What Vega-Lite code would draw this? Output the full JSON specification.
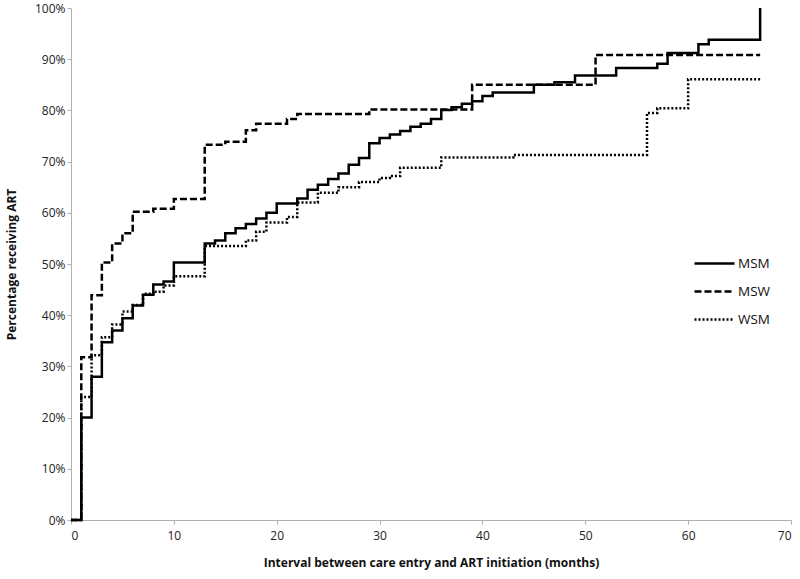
{
  "$schema": "https://vega.github.io/schema/vega-lite/v6.json",
  "width": 720,
  "height": 512,
  "autosize": {"type": "none"},
  "padding": {"left": 71, "top": 8, "right": 9, "bottom": 59},
  "background": "white",
  "config": {
    "view": {"stroke": null},
    "font": "Open Sans",
    "axis": {
      "domainColor": "#b0b0b0",
      "tickColor": "#b0b0b0",
      "labelColor": "#222",
      "titleColor": "#111",
      "labelFont": "Open Sans",
      "titleFont": "Open Sans",
      "labelFontSize": 12,
      "titleFontSize": 12,
      "titleFontWeight": "bold",
      "grid": false
    }
  },
  "data": {
    "values": [
      {"group": "MSM", "month": 0, "pct": 0},
      {"group": "MSM", "month": 1, "pct": 20},
      {"group": "MSM", "month": 2, "pct": 28},
      {"group": "MSM", "month": 3, "pct": 34.7},
      {"group": "MSM", "month": 4, "pct": 37},
      {"group": "MSM", "month": 5, "pct": 39.4},
      {"group": "MSM", "month": 6, "pct": 41.9},
      {"group": "MSM", "month": 7, "pct": 44},
      {"group": "MSM", "month": 8, "pct": 46},
      {"group": "MSM", "month": 9, "pct": 46.6},
      {"group": "MSM", "month": 10, "pct": 50.3},
      {"group": "MSM", "month": 13, "pct": 54},
      {"group": "MSM", "month": 14, "pct": 54.6},
      {"group": "MSM", "month": 15, "pct": 56},
      {"group": "MSM", "month": 16, "pct": 57},
      {"group": "MSM", "month": 17, "pct": 57.8},
      {"group": "MSM", "month": 18, "pct": 58.9},
      {"group": "MSM", "month": 19, "pct": 60},
      {"group": "MSM", "month": 20, "pct": 61.8},
      {"group": "MSM", "month": 22, "pct": 62.8},
      {"group": "MSM", "month": 23, "pct": 64.5},
      {"group": "MSM", "month": 24, "pct": 65.5},
      {"group": "MSM", "month": 25, "pct": 66.6},
      {"group": "MSM", "month": 26, "pct": 67.7},
      {"group": "MSM", "month": 27, "pct": 69.4},
      {"group": "MSM", "month": 28, "pct": 70.7},
      {"group": "MSM", "month": 29, "pct": 73.6},
      {"group": "MSM", "month": 30, "pct": 74.6},
      {"group": "MSM", "month": 31, "pct": 75.3},
      {"group": "MSM", "month": 32, "pct": 76},
      {"group": "MSM", "month": 33, "pct": 76.8},
      {"group": "MSM", "month": 34, "pct": 77.4},
      {"group": "MSM", "month": 35, "pct": 78.3},
      {"group": "MSM", "month": 36, "pct": 80.1},
      {"group": "MSM", "month": 37, "pct": 80.6},
      {"group": "MSM", "month": 38, "pct": 81.3},
      {"group": "MSM", "month": 39, "pct": 81.8},
      {"group": "MSM", "month": 40, "pct": 82.8},
      {"group": "MSM", "month": 41, "pct": 83.5},
      {"group": "MSM", "month": 45, "pct": 85},
      {"group": "MSM", "month": 47, "pct": 85.5},
      {"group": "MSM", "month": 49, "pct": 86.8},
      {"group": "MSM", "month": 53, "pct": 88.3},
      {"group": "MSM", "month": 57, "pct": 89.1},
      {"group": "MSM", "month": 58, "pct": 91.2},
      {"group": "MSM", "month": 61, "pct": 92.9},
      {"group": "MSM", "month": 62, "pct": 93.8},
      {"group": "MSM", "month": 67, "pct": 100},
      {"group": "MSW", "month": 0, "pct": 0},
      {"group": "MSW", "month": 1, "pct": 31.8},
      {"group": "MSW", "month": 2, "pct": 43.9},
      {"group": "MSW", "month": 3, "pct": 50.3},
      {"group": "MSW", "month": 4, "pct": 54},
      {"group": "MSW", "month": 5, "pct": 56},
      {"group": "MSW", "month": 6, "pct": 60.2},
      {"group": "MSW", "month": 8, "pct": 60.8},
      {"group": "MSW", "month": 10, "pct": 62.7},
      {"group": "MSW", "month": 13, "pct": 73.3},
      {"group": "MSW", "month": 15, "pct": 73.9},
      {"group": "MSW", "month": 17, "pct": 76.1},
      {"group": "MSW", "month": 18, "pct": 77.4},
      {"group": "MSW", "month": 21, "pct": 78.3},
      {"group": "MSW", "month": 22, "pct": 79.3},
      {"group": "MSW", "month": 29, "pct": 80.2},
      {"group": "MSW", "month": 39, "pct": 85},
      {"group": "MSW", "month": 51, "pct": 90.8},
      {"group": "MSW", "month": 67, "pct": 90.8},
      {"group": "WSM", "month": 0, "pct": 0},
      {"group": "WSM", "month": 1, "pct": 24},
      {"group": "WSM", "month": 2, "pct": 32.2},
      {"group": "WSM", "month": 3, "pct": 35.7},
      {"group": "WSM", "month": 4, "pct": 38.2},
      {"group": "WSM", "month": 5, "pct": 40.7},
      {"group": "WSM", "month": 6, "pct": 42},
      {"group": "WSM", "month": 7, "pct": 44.2},
      {"group": "WSM", "month": 8, "pct": 44.6},
      {"group": "WSM", "month": 9, "pct": 45.8},
      {"group": "WSM", "month": 10, "pct": 47.6},
      {"group": "WSM", "month": 13, "pct": 53.5},
      {"group": "WSM", "month": 17, "pct": 54.6},
      {"group": "WSM", "month": 18, "pct": 56.3},
      {"group": "WSM", "month": 19, "pct": 58.1},
      {"group": "WSM", "month": 21, "pct": 59.2},
      {"group": "WSM", "month": 22, "pct": 62},
      {"group": "WSM", "month": 24, "pct": 63.9},
      {"group": "WSM", "month": 26, "pct": 65},
      {"group": "WSM", "month": 28, "pct": 66},
      {"group": "WSM", "month": 30, "pct": 66.8},
      {"group": "WSM", "month": 31, "pct": 67.2},
      {"group": "WSM", "month": 32, "pct": 68.8},
      {"group": "WSM", "month": 36, "pct": 70.8},
      {"group": "WSM", "month": 43, "pct": 71.3},
      {"group": "WSM", "month": 56, "pct": 79.5},
      {"group": "WSM", "month": 57, "pct": 80.4},
      {"group": "WSM", "month": 60, "pct": 86.1},
      {"group": "WSM", "month": 67, "pct": 86.1}
    ]
  },
  "mark": {"type": "line", "interpolate": "step-after", "color": "black", "strokeWidth": 2.5},
  "encoding": {
    "x": {
      "field": "month",
      "type": "quantitative",
      "scale": {"domain": [0, 70], "nice": false, "zero": true},
      "axis": {"values": [0, 10, 20, 30, 40, 50, 60, 70], "title": "Interval between care entry and ART initiation  (months)", "titlePadding": 16, "tickSize": 4, "labelPadding": 6}
    },
    "y": {
      "field": "pct",
      "type": "quantitative",
      "scale": {"domain": [0, 100], "nice": false},
      "axis": {"values": [0, 10, 20, 30, 40, 50, 60, 70, 80, 90, 100], "labelExpr": "datum.value + '%'", "title": "Percentage receiving ART", "titlePadding": 16, "tickSize": 4}
    },
    "strokeDash": {
      "field": "group",
      "type": "nominal",
      "scale": {"domain": ["MSM", "MSW", "WSM"], "range": [[1, 0], [7, 3], [2, 2]]},
      "legend": {
        "title": null,
        "orient": "none",
        "legendX": 622,
        "legendY": 234,
        "symbolType": "stroke",
        "symbolSize": 1600,
        "symbolStrokeColor": "black",
        "symbolStrokeWidth": 2.5,
        "labelFontSize": 13.5,
        "labelColor": "#111",
        "labelOffset": 2,
        "rowPadding": -12,
        "padding": 0
      }
    }
  }
}
